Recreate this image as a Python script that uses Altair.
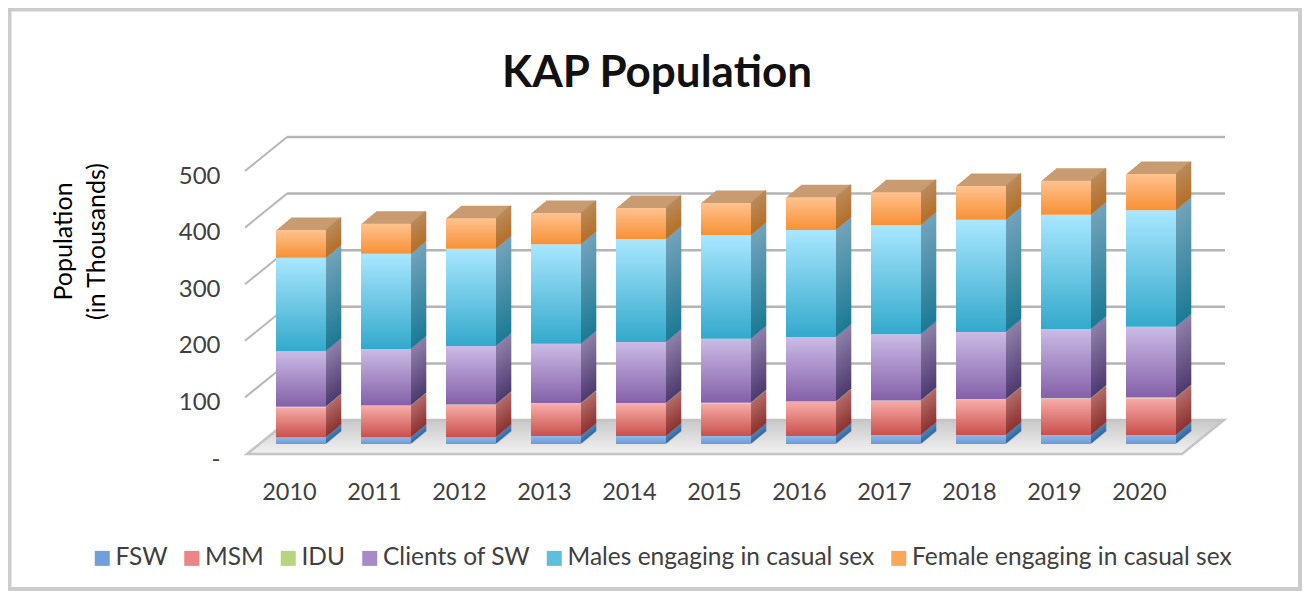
import altair as alt
import pandas as pd

years = [str(y) for y in range(2010, 2021)]
names = ["FSW", "MSM", "IDU", "Clients of SW", "Males engaging in casual sex", "Female engaging in casual sex"]
fsw = [12, 12, 12, 14, 14, 14, 14, 16, 16, 16, 16]
msm = [53, 55, 57, 57, 57, 58, 60, 60, 62, 64, 65]
idu = [1, 1, 1, 1, 1, 1, 1, 1, 1, 1, 1]
clients = [98, 100, 103, 105, 108, 113, 114, 117, 119, 122, 125]
males = [165, 168, 172, 176, 182, 183, 189, 193, 198, 202, 206]
female = [49, 53, 54, 55, 55, 57, 58, 58, 60, 60, 64]
series = [fsw, msm, idu, clients, males, female]

legend_colors = ["#6fa0dd", "#ee8585", "#b5d67a", "#a88ac8", "#5cc0dc", "#fba75a"]
front_grad = [("#8fb8ea", "#6a9ad6"), ("#f7aca8", "#c9504c"), ("#e8efb0", "#d8e4a0"),
              ("#cbbbe6", "#8460a8"), ("#a9e7ff", "#33a9cb"), ("#ffc28f", "#f79135")]
side_grad = [("#4f86bd", "#34689a"), ("#b46a67", "#8c3330"), ("#b5bd80", "#9aa565"),
             ("#8f80a9", "#4d3a70"), ("#73a3bb", "#1c7a94"), ("#b98a5a", "#b56f28")]
top_face = "#c99b70"

ticks = [0, 100, 200, 300, 400, 500]
FONT = "Lato"
W, H = 935, 283
LEFT, TOP = 239, 163
BAR_DX, BAR_DY = 11.5, -10
DEPTH_X, DEPTH_Y, STEPS = 15, 12.5, 15
BACK_UNITS = 60


def grad(a, b):
    return alt.Gradient(gradient="linear", x1=0, x2=0, y1=0, y2=1,
                        stops=[alt.GradientStop(color=a, offset=0), alt.GradientStop(color=b, offset=1)])


rows = []
for k, yr in enumerate(years):
    base = 0
    row = {"year": yr}
    for j, s in enumerate(series):
        row[f"a{j}"] = base
        base += s[k]
        row[f"b{j}"] = base
    rows.append(row)
df = pd.DataFrame(rows)

x_enc = alt.X("year:N", sort=years, title=None,
              scale=alt.Scale(paddingInner=35 / 85, paddingOuter=35 / 170),
              axis=alt.Axis(domain=False, ticks=False, labelAngle=0, labelPadding=26, labelFontSize=23.5,
                            labelColor="#404040", labelFont=FONT))
x_plain = alt.X("year:N", sort=years, title=None, axis=None,
                scale=alt.Scale(paddingInner=35 / 85, paddingOuter=35 / 170))
y_scale = alt.Scale(domain=[0, 500], nice=False)
y_enc = alt.Y("lo:Q", scale=y_scale, title=["Population", "(in Thousands)"],
              axis=alt.Axis(values=ticks, domain=False, ticks=False, grid=False, labelPadding=27, labelOffset=5,
                            labelFontSize=24, labelColor="#404040", labelFont=FONT,
                            labelExpr="datum.value == 0 ? '-' : datum.label",
                            titleFont=FONT, titleFontSize=25, titleFontWeight="normal", titleColor="#000000",
                            titleX=-171, titleY=70, titleLineHeight=33))


def seg(j, mark, x=x_plain):
    off = mark.pop("yOffset")
    return alt.Chart(df).mark_bar(yOffset=off, y2Offset=off, **mark).encode(
        x=x,
        y=alt.Y(f"a{j}:Q", scale=y_scale, axis=None),
        y2=f"b{j}:Q",
    )


bar_layers = []
# top face: offset copies of the top segment
for i in range(STEPS, 0, -1):
    t = i / STEPS
    bar_layers.append(seg(5, dict(color=top_face, xOffset=BAR_DX + DEPTH_X * t, yOffset=BAR_DY - DEPTH_Y * t)))
# side faces: thin slices
for j in range(6):
    for i in range(1, STEPS + 1):
        t = i / STEPS
        bar_layers.append(seg(j, dict(color=grad(*side_grad[j]), width=1.6,
                                      xOffset=BAR_DX + 25 + DEPTH_X * t - 0.5,
                                      yOffset=BAR_DY - DEPTH_Y * t)))
# front faces
for j in range(6):
    bar_layers.append(seg(j, dict(color=grad(*front_grad[j]), xOffset=BAR_DX, yOffset=BAR_DY)))

tick_df = pd.DataFrame({"lo": ticks, "hi": [t + BACK_UNITS for t in ticks], "year": ["2010"] * 6})

# floor
floor_df = pd.DataFrame({"px": [0, 42, 935, 977], "lo": [0, 0, 0, 60], "hi": [0, 60, 60, 60]})
floor = alt.Chart(floor_df).mark_area(
    color=alt.Gradient(gradient="linear", x1=0, x2=0, y1=1, y2=0,
                       stops=[alt.GradientStop(color="#f2f2f2", offset=0), alt.GradientStop(color="#c8c8c8", offset=1)]),
    stroke="#c4c4c4", strokeWidth=2.5,
).encode(
    x=alt.X("px:Q", axis=None, scale=alt.Scale(domain=[0, 935], range=[0, 935], nice=False, zero=False)),
    y=alt.Y("lo:Q", scale=y_scale, axis=None),
    y2="hi:Q",
)

back_grid = alt.Chart(tick_df[tick_df.lo > 0]).mark_rule(color="#b4b4b4", strokeWidth=2.5, yOffset=-34).encode(
    x=alt.value(40), x2=alt.value(978), y=alt.Y("lo:Q", scale=y_scale, axis=None))
diag = alt.Chart(tick_df[tick_df.lo > 0]).mark_rule(color="#b8b8b8", strokeWidth=2).encode(
    x=alt.value(-2), x2=alt.value(40), y=alt.Y("lo:Q", scale=y_scale, axis=None), y2="hi:Q")

# axes carrier
axis_layer = alt.Chart(tick_df).mark_point(opacity=0, size=0).encode(x=x_enc, y=y_enc)

legend_df = pd.DataFrame({"name": names})
legend_layer = alt.Chart(legend_df).mark_square(size=0, opacity=0).encode(
    x=alt.value(0), y=alt.value(0),
    color=alt.Color("name:N", sort=names, scale=alt.Scale(domain=names, range=legend_colors),
                    legend=alt.Legend(title=None, orient="none", legendX=-157, legendY=375, direction="horizontal",
                                      columns=6, columnPadding=11.5, symbolType="square", symbolSize=225,
                                      symbolOpacity=1, symbolStrokeWidth=0, labelFont=FONT, labelFontSize=24.5,
                                      labelColor="#404040", labelLimit=400, labelOffset=1)),
)

frame = alt.Chart(legend_df.head(1)).mark_rect(fill="white", fillOpacity=0, stroke="#cccccc", strokeWidth=4).encode(
    x=alt.value(-LEFT + 1.5), x2=alt.value(1053), y=alt.value(-TOP + 1.5), y2=alt.value(418))

inner = alt.layer(axis_layer, *bar_layers).resolve_axis(x="independent", y="independent")
chart = alt.layer(frame, back_grid, diag, floor, inner, legend_layer).resolve_scale(x="independent").resolve_axis(
    x="independent", y="independent").properties(
    width=W, height=H,
    padding={"left": LEFT, "top": TOP, "right": 120, "bottom": 137},
    autosize=alt.AutoSizeParams(type="none"),
    title=alt.TitleParams("KAP Population", anchor="middle", dx=-57.5, offset=-88, font=FONT, fontSize=44,
                          fontWeight="bold", color="#111111"),
).configure_view(stroke=None)

chart.save("out.html", embed_options={"renderer": "svg", "actions": False})
